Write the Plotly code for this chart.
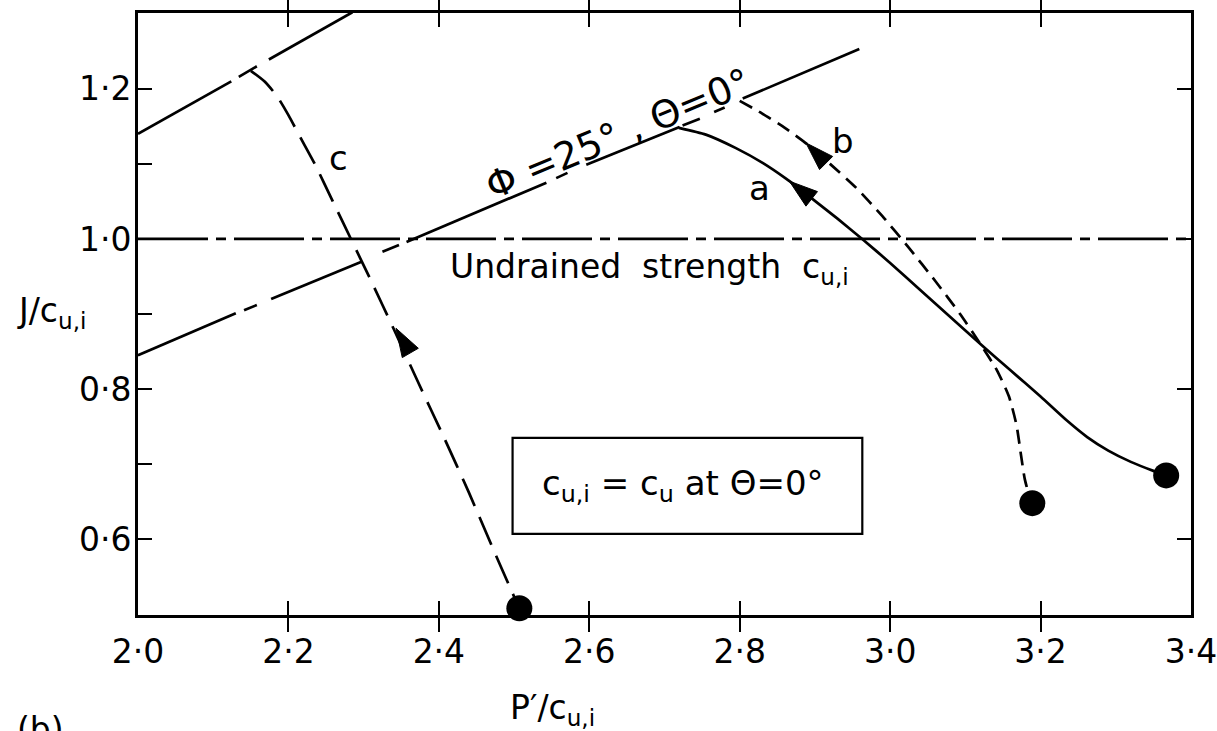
import plotly.graph_objects as go

FONT = "DejaVu Sans"

# axis ticks
X_TICKS = [2.0, 2.2, 2.4, 2.6, 2.8, 3.0, 3.2, 3.4]
X_TICK_TEXT = ["2·0", "2·2", "2·4", "2·6", "2·8", "3·0", "3·2", "3·4"]
Y_TICKS = [0.6, 0.7, 0.8, 0.9, 1.0, 1.1, 1.2]
Y_TICK_TEXT = ["0·6", "", "0·8", "", "1·0", "", "1·2"]

# Phi = 25 deg, Theta = 0 deg envelope (pen-lifted segments)
ENV_LOWER_X = [2.000, 2.130, None, 2.141, 2.158, None, 2.177, 2.298, None,
               2.325, 2.347, None, 2.357, 2.543, None, 2.556, 2.571, None,
               2.596, 2.720, None, 2.724, 2.747, None, 2.766, 2.780, None,
               2.804, 2.959]
ENV_LOWER_Y = [0.845, 0.901, None, 0.905, 0.912, None, 0.920, 0.970, None,
               0.983, 0.992, None, 0.996, 1.075, None, 1.081, 1.088, None,
               1.099, 1.149, None, 1.151, 1.160, None, 1.169, 1.175, None,
               1.187, 1.253]

# upper envelope
ENV_UPPER_X = [2.000, 2.124, None, 2.134, 2.158, None, 2.174, 2.285]
ENV_UPPER_Y = [1.140, 1.210, None, 1.216, 1.230, None, 1.239, 1.302]

# undrained strength
UNDRAINED_X = [2.0, 3.4]
UNDRAINED_Y = [1.0, 1.0]

# stress path a (solid)
PATH_A_X = [2.719, 2.755, 2.795, 2.831, 2.862, 2.897, 2.930, 2.964, 3.000,
            3.040, 3.080, 3.120, 3.160, 3.200, 3.235, 3.262, 3.290, 3.320,
            3.350, 3.367]
PATH_A_Y = [1.148, 1.139, 1.121, 1.101, 1.080, 1.053, 1.027, 0.999, 0.968,
            0.932, 0.896, 0.860, 0.825, 0.790, 0.758, 0.736, 0.718, 0.703,
            0.691, 0.685]

# stress path b (short dashes)
PATH_B_X = [2.800, 2.830, 2.860, 2.890, 2.920, 2.955, 2.990, 3.025, 3.060,
            3.093, 3.120, 3.142, 3.158, 3.168, 3.174, 3.179, 3.187]
PATH_B_Y = [1.184, 1.167, 1.148, 1.126, 1.100, 1.068, 1.030, 0.988, 0.944,
            0.900, 0.860, 0.825, 0.790, 0.752, 0.712, 0.680, 0.650]

# stress path c (long dashes)
PATH_C_X = [2.150, 2.168, 2.185, 2.200, 2.216, 2.235, 2.259, 2.285, 2.310,
            2.340, 2.372, 2.407, 2.440, 2.470, 2.498, 2.507]
PATH_C_Y = [1.224, 1.210, 1.190, 1.165, 1.135, 1.100, 1.050, 0.996, 0.944,
            0.880, 0.810, 0.735, 0.662, 0.592, 0.528, 0.508]

# starting states
START_X = [2.507, 3.189, 3.367]
START_Y = [0.508, 0.648, 0.685]

# direction arrows: [tail, tip]
ARROW_A_X, ARROW_A_Y = [2.900, 2.866], [1.050, 1.077]
ARROW_B_X, ARROW_B_Y = [2.924, 2.888], [1.092, 1.128]
ARROW_C_X, ARROW_C_Y = [2.365, 2.343], [0.843, 0.881]

fig = go.Figure()


def line(xs, ys, dash="solid", width=2.7):
    fig.add_trace(go.Scatter(
        x=xs, y=ys, mode="lines", connectgaps=False,
        line=dict(color="black", width=width, dash=dash),
        hoverinfo="skip", showlegend=False))


def curve(xs, ys, dash="solid", width=2.7):
    fig.add_trace(go.Scatter(
        x=xs, y=ys, mode="lines",
        line=dict(color="black", width=width, dash=dash, shape="spline", smoothing=0.6),
        hoverinfo="skip", showlegend=False))


def arrow(xs, ys):
    fig.add_trace(go.Scatter(
        x=xs, y=ys, mode="markers", opacity=1,
        marker=dict(symbol="arrow", size=[0, 30], angleref="previous", opacity=1,
                    color="#000000", line=dict(width=1, color="#000000")),
        hoverinfo="skip", showlegend=False))


line(ENV_LOWER_X, ENV_LOWER_Y)
line(ENV_UPPER_X, ENV_UPPER_Y)
line(UNDRAINED_X, UNDRAINED_Y, dash="70px,8px,10px,8px")
curve(PATH_A_X, PATH_A_Y)
curve(PATH_B_X, PATH_B_Y, dash="14px,8px")
curve(PATH_C_X, PATH_C_Y, dash="30px,12px")
arrow(ARROW_A_X, ARROW_A_Y)
arrow(ARROW_B_X, ARROW_B_Y)
arrow(ARROW_C_X, ARROW_C_Y)

fig.add_trace(go.Scatter(
    x=START_X, y=START_Y, mode="markers",
    marker=dict(size=26, color="black"), cliponaxis=False,
    hoverinfo="skip", showlegend=False))

# right-hand axis carrying the inner ticks on that side
fig.add_trace(go.Scatter(x=[2.0], y=[1.0], xaxis="x", yaxis="y2",
                         mode="markers", marker=dict(opacity=0),
                         hoverinfo="skip", showlegend=False))

# note box
fig.add_shape(type="rect", xref="x", yref="y", x0=2.498, x1=2.963, y0=0.607, y1=0.735,
              line=dict(color="black", width=2.2))

txt = dict(color="black", family=FONT)
ann = [
    dict(x=2.725, y=0.671, text="c<sub>u,i</sub> = c<sub>u</sub> at Θ=0°",
         font=dict(size=34, **txt)),
    dict(x=2.680, y=0.960, text="Undrained\u00a0\u00a0strength\u00a0\u00a0c<sub>u,i</sub>",
         font=dict(size=33, **txt)),
    dict(x=2.638, y=1.140, text="Φ\u00a0=25°\u00a0,\u00a0Θ=0°", textangle=-22.5,
         font=dict(size=38, **txt)),
    dict(x=2.267, y=1.108, text="c", font=dict(size=34, **txt)),
    dict(x=2.826, y=1.068, text="a", font=dict(size=34, **txt)),
    dict(x=2.937, y=1.130, text="b", font=dict(size=34, **txt)),
    dict(xref="paper", yref="paper", x=-0.082, y=0.502, text="J/c<sub>u,i</sub>",
         font=dict(size=33, **txt)),
    dict(xref="paper", yref="paper", x=0.394, y=-0.157, text="P′/c<sub>u,i</sub>",
         font=dict(size=33, **txt)),
    dict(xref="paper", yref="paper", x=-0.093, y=-0.190, text="(b)",
         font=dict(size=33, **txt)),
]
for a in ann:
    a.setdefault("xref", "x")
    a.setdefault("yref", "y")
    a["showarrow"] = False
    a["xanchor"] = "center"
    a["yanchor"] = "middle"
    fig.add_annotation(**a)

axis_common = dict(showgrid=False, zeroline=False, showline=True, linecolor="black",
                   linewidth=2.7, ticks="inside", ticklen=14, tickwidth=2.2,
                   tickcolor="black", automargin=False, ticklabeloverflow="allow",
                   tickfont=dict(size=33, color="black", family=FONT))

fig.update_layout(
    width=1217, height=731,
    margin=dict(l=138, r=26, t=13, b=116),
    paper_bgcolor="white", plot_bgcolor="white",
    xaxis=dict(range=[2.0, 3.4], tickvals=X_TICKS, ticktext=X_TICK_TEXT,
               mirror="allticks", ticklabelstandoff=6, **axis_common),
    yaxis=dict(range=[0.499, 1.301], tickvals=Y_TICKS, ticktext=Y_TICK_TEXT,
               mirror=True, ticklabelstandoff=-3, **axis_common),
    yaxis2=dict(range=[0.499, 1.301], overlaying="y", side="right",
                tickvals=[0.6, 0.8, 1.0, 1.2], showticklabels=False,
                showgrid=False, zeroline=False, showline=False, ticks="inside",
                ticklen=14, tickwidth=2.2, tickcolor="black", automargin=False),
)

fig.write_html("out.html")
